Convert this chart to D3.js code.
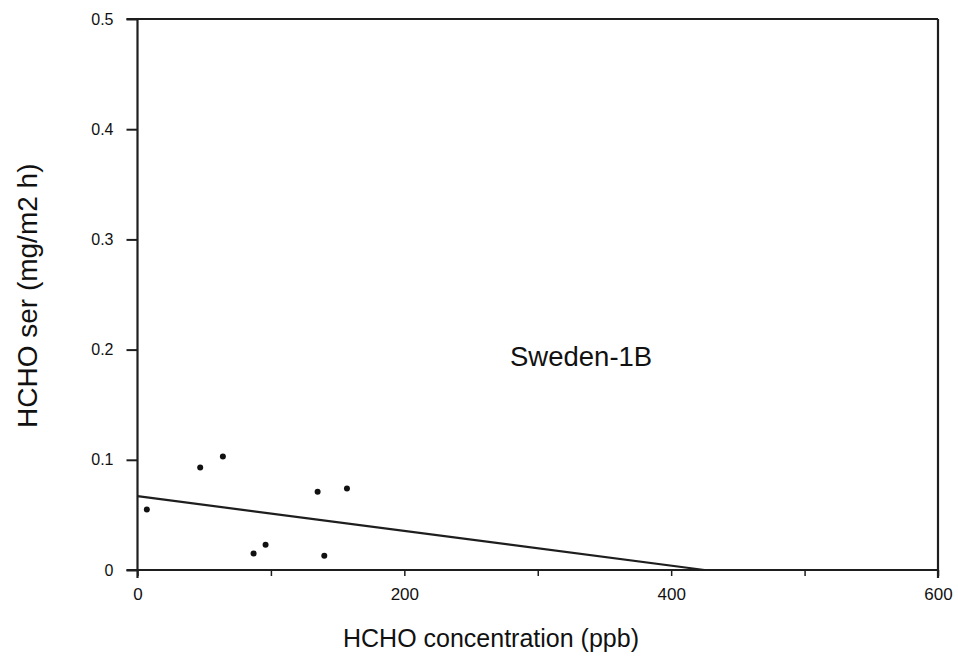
<!DOCTYPE html>
<html>
<head>
<meta charset="utf-8">
<script src="https://cdn.jsdelivr.net/npm/d3@7"></script>
<style>
  html, body { margin: 0; padding: 0; background: #fff; }
  svg { display: block; }
  text { font-family: "Liberation Sans", Arial, Helvetica, sans-serif; fill: #111; }
</style>
</head>
<body>
<svg id="chart" width="958" height="659"></svg>
<script>
// ---- data ----
const concentration = [7, 47, 64, 87, 96, 135, 157, 140];          // HCHO concentration (ppb)
const emissionRate  = [0.055, 0.093, 0.103, 0.015, 0.023, 0.071, 0.074, 0.013]; // HCHO ser (mg/m2 h)
const fitX = [0, 425];
const fitY = [0.067, 0];
const xTicks = [0, 100, 200, 300, 400, 500, 600];
const xTickLabels = ["0", "", "200", "", "400", "", "600"];
const yTicks = [0, 0.1, 0.2, 0.3, 0.4, 0.5];
const yTickLabels = ["0", "0.1", "0.2", "0.3", "0.4", "0.5"];
const xTitle = "HCHO concentration (ppb)";
const yTitle = "HCHO ser (mg/m2 h)";
const annotation = "Sweden-1B";

// ---- layout ----
const svg = d3.select("#chart");
const x = d3.scaleLinear().domain([0, 600]).range([137.5, 938]);
const y = d3.scaleLinear().domain([0, 0.5]).range([570, 19]);
const ink = "#1e1e1e";

// y axis (left), ticks outward
const yAxis = svg.append("g")
  .attr("transform", `translate(${x(0)},0)`)
  .call(d3.axisLeft(y).tickValues(yTicks).tickSize(11).tickPadding(13)
        .tickFormat((d, i) => yTickLabels[i]));
yAxis.select(".domain").remove();
yAxis.selectAll(".tick line").attr("stroke", ink).attr("stroke-width", 2);
yAxis.selectAll(".tick text").style("font-size", "16px").attr("fill", "#111");

// x axis (bottom), small ticks downward
const xAxis = svg.append("g")
  .attr("transform", `translate(0,${y(0)})`)
  .call(d3.axisBottom(x).tickValues(xTicks).tickSize(6).tickPadding(12)
        .tickFormat((d, i) => xTickLabels[i]));
xAxis.select(".domain").remove();
xAxis.selectAll(".tick line").attr("stroke", ink).attr("stroke-width", 1.5);
xAxis.selectAll(".tick text").style("font-size", "17px").attr("fill", "#111");

// frame lines
const frame = svg.append("g").attr("stroke", ink).attr("stroke-width", 2.2).attr("fill", "none");
frame.append("line").attr("x1", x(0)).attr("x2", x(0)).attr("y1", y(0.5)).attr("y2", y(0) + 8);
frame.append("line").attr("x1", x(0) - 11).attr("x2", x(600)).attr("y1", y(0)).attr("y2", y(0));
frame.append("line").attr("x1", x(0) - 11).attr("x2", x(600)).attr("y1", y(0.5)).attr("y2", y(0.5));
frame.append("line").attr("x1", x(600)).attr("x2", x(600)).attr("y1", y(0.5)).attr("y2", y(0) + 8);

// fitted line
svg.append("path")
  .datum(fitX.map((d, i) => [d, fitY[i]]))
  .attr("fill", "none").attr("stroke", ink).attr("stroke-width", 2.2)
  .attr("d", d3.line().x(d => x(d[0])).y(d => y(d[1])));

// points
svg.append("g").selectAll("circle")
  .data(concentration.map((d, i) => [d, emissionRate[i]]))
  .join("circle")
  .attr("cx", d => x(d[0])).attr("cy", d => y(d[1]))
  .attr("r", 3).attr("fill", "#111");

// titles
svg.append("text")
  .attr("x", 343).attr("y", 647)
  .style("font-size", "25px")
  .text(xTitle);

svg.append("text")
  .attr("transform", "translate(37,428) rotate(-90)")
  .style("font-size", "28px")
  .text(yTitle);

svg.append("text")
  .attr("x", 510).attr("y", 366)
  .style("font-size", "27.5px")
  .text(annotation);
</script>
</body>
</html>
